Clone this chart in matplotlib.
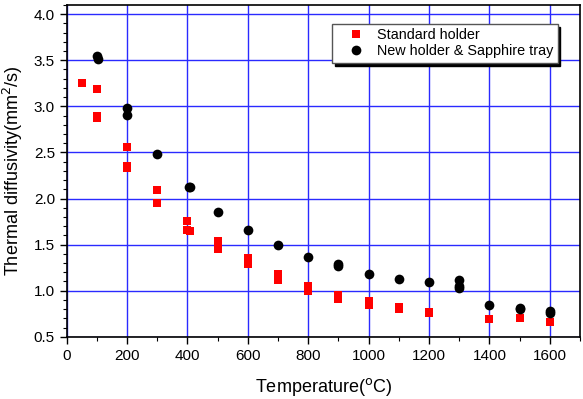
import matplotlib
matplotlib.use("Agg")
import matplotlib.pyplot as plt
from matplotlib.ticker import MultipleLocator

plt.rcParams['font.family'] = ['Liberation Sans', 'DejaVu Sans']

std_T = [50, 100, 100, 100, 200, 200, 200, 300, 300, 400, 400, 410,
         500, 500, 500, 600, 600, 600, 700, 700, 700, 800, 800, 800,
         900, 900, 1000, 1000, 1100, 1100, 1200, 1200, 1400, 1500, 1600]
std_D = [3.25, 3.19, 2.89, 2.87, 2.56, 2.35, 2.33, 2.09, 1.95, 1.76, 1.655, 1.645,
         1.54, 1.46, 1.45, 1.355, 1.31, 1.29, 1.18, 1.14, 1.12, 1.05, 1.01, 1.00,
         0.95, 0.91, 0.89, 0.85, 0.82, 0.80, 0.77, 0.76, 0.69, 0.70, 0.66]

new_T = [100, 103, 200, 200, 300, 404, 410, 500, 600, 700, 800,
         900, 900, 1000, 1100, 1200, 1300, 1300, 1300, 1400, 1500, 1500, 1600, 1600]
new_D = [3.55, 3.51, 2.985, 2.91, 2.48, 2.12, 2.12, 1.855, 1.66, 1.50, 1.37,
         1.29, 1.27, 1.185, 1.13, 1.09, 1.115, 1.05, 1.03, 0.84, 0.81, 0.80, 0.78, 0.76]

fig = plt.figure(figsize=(5.83, 3.99), dpi=100)
ax = fig.add_axes([0.1144, 0.156, 0.8805, 0.8315])

ax.grid(True, which='major', color='#2a2aff', linewidth=1.0, zorder=0)
ax.set_axisbelow(True)

ax.plot(std_T, std_D, 's', color='#ff0000', markersize=6, markeredgewidth=0,
        label='Standard holder', zorder=3)
ax.plot(new_T, new_D, 'o', color='black', markersize=7, markeredgewidth=0,
        label='New holder & Sapphire tray', zorder=3)

ax.set_xlim(0, 1700)
ax.set_ylim(0.5, 4.1)
ax.xaxis.set_major_locator(MultipleLocator(200))
ax.xaxis.set_minor_locator(MultipleLocator(100))
ax.yaxis.set_major_locator(MultipleLocator(0.5))
ax.yaxis.set_minor_locator(MultipleLocator(0.1))
ax.yaxis.set_major_formatter(matplotlib.ticker.FormatStrFormatter('%.1f'))
ax.tick_params(which='major', direction='out', length=5, width=1, labelsize=11)
ax.tick_params(which='minor', direction='out', length=3, width=0.8)
for s in ax.spines.values():
    s.set_linewidth(1.2)

ax.set_xlabel('Temperature($^{\\rm o}$C)', fontsize=13, labelpad=10)
ax.set_ylabel('Thermal diffusivity(mm$^2$/s)', fontsize=13, labelpad=6)

leg = ax.legend(loc='upper left', bbox_to_anchor=(0.517, 0.943), fontsize=10.4,
                frameon=True, fancybox=False, shadow={'color': 'black', 'alpha': 1},
                handletextpad=0.1, borderpad=0.3, labelspacing=0.15,
                handlelength=2.7, borderaxespad=0)
leg.get_frame().set_edgecolor('#555555')
leg.get_frame().set_linewidth(1.0)

fig.savefig('out.png', dpi=100)
